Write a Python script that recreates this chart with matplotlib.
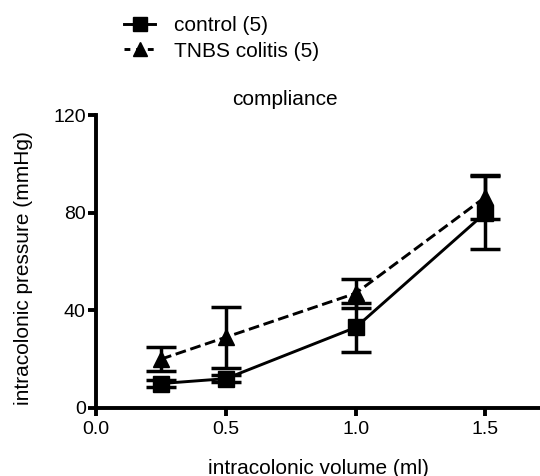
import matplotlib
matplotlib.use("Agg")
import matplotlib.pyplot as plt
from matplotlib.lines import Line2D

plt.rcParams['font.family'] = ['Liberation Sans', 'DejaVu Sans']

volume = [0.25, 0.5, 1.0, 1.5]
control_mean = [10, 12, 33, 80]
control_err = [1.5, 1.5, 10, 15]
tnbs_mean = [20, 29, 47, 86.5]
tnbs_err = [5, 12.5, 6, 9]

fig = plt.figure(figsize=(5.4, 4.76), dpi=100)
ax = fig.add_axes([0.178, 0.143, 0.822, 0.615])

ax.errorbar(volume, control_mean, yerr=control_err, color='black', lw=2.1,
            marker='s', markersize=11, capsize=10.5, capthick=2.5, elinewidth=2.5,
            clip_on=False, zorder=3)
ax.errorbar(volume, tnbs_mean, yerr=tnbs_err, color='black', lw=2.1, ls='--',
            marker='^', markersize=11, capsize=10.5, capthick=2.5, elinewidth=2.5,
            clip_on=False, zorder=3)

ax.set_xlim(0, 1.71)
ax.set_ylim(0, 120)
ax.set_xticks([0.0, 0.5, 1.0, 1.5])
ax.set_xticklabels(['0.0', '0.5', '1.0', '1.5'])
ax.set_yticks([0, 40, 80, 120])

for s in ['top', 'right']:
    ax.spines[s].set_visible(False)
for s in ['left', 'bottom']:
    ax.spines[s].set_linewidth(2.8)
ax.tick_params(width=2.8, length=6, labelsize=14, direction='out')
ax.tick_params(axis='y', pad=1.5)

ax.set_xlabel('intracolonic volume (ml)', fontsize=15, labelpad=15)
ax.set_ylabel('intracolonic pressure (mmHg)', fontsize=15)
ax.yaxis.set_label_coords(-0.142, 0.478)
fig.text(0.528, 0.79, 'compliance', fontsize=15, ha='center', va='center')

handles = [Line2D([], [], color='black', lw=2.1, marker='s', markersize=10),
           Line2D([], [], color='black', lw=2.1, ls=(0, (2, 2)), marker='^', markersize=10)]
fig.legend(handles, ['control (5)', 'TNBS colitis (5)'], loc='upper left',
           bbox_to_anchor=(0.195, 1.005), frameon=False, fontsize=15,
           handlelength=1.5, handletextpad=0.9, labelspacing=0.3)

fig.savefig('out.png', dpi=100)
